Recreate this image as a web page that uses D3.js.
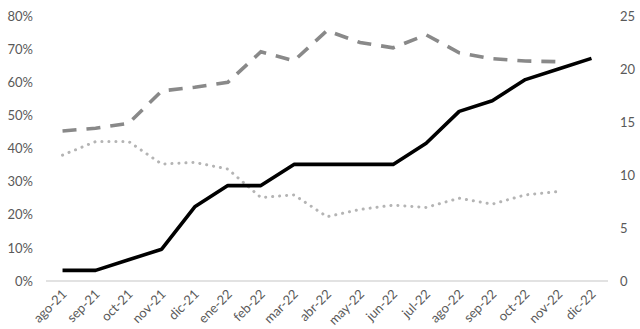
<!DOCTYPE html>
<html><head><meta charset="utf-8">
<script src="https://cdn.jsdelivr.net/npm/d3@7"></script>
<style>body{margin:0;background:#fff;}svg{display:block;}</style>
</head><body>
<script>
const categories = ["ago-21","sep-21","oct-21","nov-21","dic-21","ene-22","feb-22","mar-22","abr-22","may-22","jun-22","jul-22","ago-22","sep-22","oct-22","nov-22","dic-22"];
const dashedPct = [45.3,46.1,47.6,57.4,58.5,60.0,69.2,66.5,75.6,72.0,70.4,74.3,68.9,67.1,66.4,66.2,null];
const dottedPct = [38.0,42.1,42.1,35.3,35.8,33.8,25.2,26.0,19.4,21.6,22.9,22.2,25.0,23.2,26.0,27.0,null];
const solidCount = [1,1,2,3,7,9,9,11,11,11,11,13,16,17,19,20,21];
const leftTicks = [0,10,20,30,40,50,60,70,80];
const rightTicks = [0,5,10,15,20,25];

const W = 640, H = 329;
const svg = d3.select("body").append("svg").attr("width", W).attr("height", H);
const font = "Lato, 'Open Sans', sans-serif";

const x = d3.scaleBand().domain(categories).range([46, 608]).padding(0);
const yL = d3.scaleLinear().domain([0, 80]).range([281, 16]);
const yR = d3.scaleLinear().domain([0, 25]).range([281, 16]);
const cx = d => x(d) + x.bandwidth() / 2;

// baseline axis
svg.append("line").attr("x1", 46).attr("x2", 608).attr("y1", yL(0)).attr("y2", yL(0))
  .attr("stroke", "#d9d9d9").attr("stroke-width", 1.3);

// left axis labels
const gl = svg.append("g").attr("transform", "translate(33,0)")
  .call(d3.axisLeft(yL).tickValues(leftTicks).tickSize(0).tickPadding(0).tickFormat(d => d + "%"));
gl.select(".domain").remove();
gl.selectAll("text").attr("fill", "#595959").style("font-family", font).style("font-size", "13px");

// right axis labels
const gr = svg.append("g").attr("transform", "translate(620,0)")
  .call(d3.axisRight(yR).tickValues(rightTicks).tickSize(0).tickPadding(0));
gr.select(".domain").remove();
gr.selectAll("text").attr("fill", "#595959").style("font-family", font).style("font-size", "13px");

// x labels
const gx = svg.append("g").attr("transform", `translate(0,${yL(0)})`)
  .call(d3.axisBottom(x).tickSize(0).tickPadding(0));
gx.select(".domain").remove();
gx.selectAll("text").attr("fill", "#595959").style("font-family", font).style("font-size", "13px")
  .attr("text-anchor", "end").attr("dy", 0).attr("y", 0)
  .attr("transform", "translate(5,14) rotate(-45)");

// lines
const idx = categories.map((c, i) => i);
const lineL = arr => d3.line().defined(i => arr[i] != null).x(i => cx(categories[i])).y(i => yL(arr[i]));
const lineR = arr => d3.line().defined(i => arr[i] != null).x(i => cx(categories[i])).y(i => yR(arr[i]));

svg.append("path").attr("d", lineL(dashedPct)(idx)).attr("fill", "none")
  .attr("stroke", "#898989").attr("stroke-width", 3.6).attr("stroke-dasharray", "14,10");

svg.append("path").attr("d", lineL(dottedPct)(idx)).attr("fill", "none")
  .attr("stroke", "#b4b4b4").attr("stroke-width", 3).attr("stroke-linecap", "round")
  .attr("stroke-dasharray", "0.1,6.9");

svg.append("path").attr("d", lineR(solidCount)(idx)).attr("fill", "none")
  .attr("stroke", "#000").attr("stroke-width", 3.6).attr("stroke-linejoin", "round");
</script>
</body></html>
